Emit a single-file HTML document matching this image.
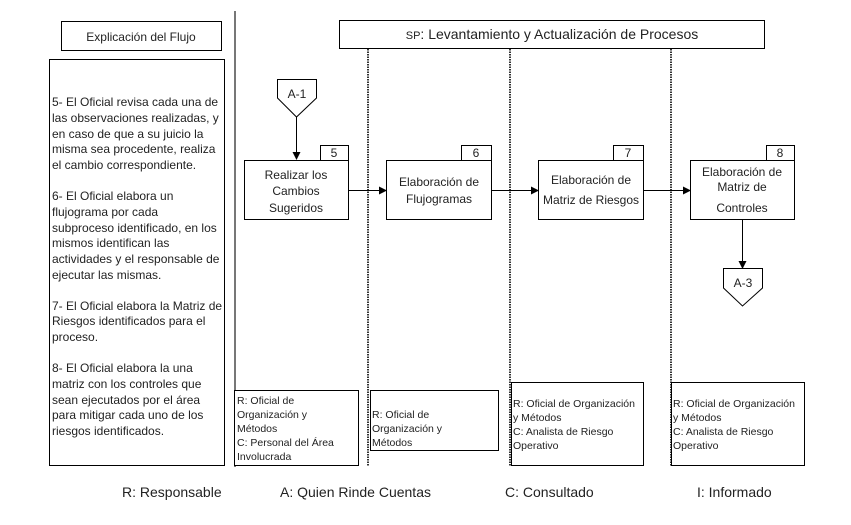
<!DOCTYPE html>
<html><head><meta charset="utf-8"><style>
body{margin:0;background:#fff}
svg{display:block}
text{font-family:"Liberation Sans",sans-serif;fill:#222}
</style></head><body>
<svg width="851" height="525" viewBox="0 0 851 525" xmlns="http://www.w3.org/2000/svg">
<defs><marker id="ar" markerWidth="8" markerHeight="8" refX="7" refY="4" orient="auto" markerUnits="userSpaceOnUse"><path d="M0,0 L8,4 L0,8 z" fill="#000"/></marker></defs>
<rect width="851" height="525" fill="#fff"/>
<!-- grey divider -->
<line x1="235" y1="11" x2="235" y2="467" stroke="#777" stroke-width="2"/>
<!-- dotted lane lines -->
<g stroke="#333" stroke-width="2" stroke-dasharray="1.5,1">
<line x1="368" y1="49" x2="368" y2="466"/>
<line x1="510" y1="49" x2="510" y2="466"/>
<line x1="671" y1="49" x2="671" y2="466"/>
</g>
<g fill="#fff" stroke="#000" stroke-width="1">
<rect x="61.5" y="21.5" width="160" height="29"/>
<rect x="49.5" y="59.5" width="175" height="406"/>
<rect x="339.5" y="20.5" width="425" height="28"/>
</g>
<text x="141" y="41" font-size="12" text-anchor="middle">Explicación del Flujo</text>
<text x="552" y="39" font-size="14" text-anchor="middle"><tspan font-size="11">SP</tspan>: Levantamiento y Actualización de Procesos</text>
<g font-size="12">
<text x="52" y="106">5- El Oficial revisa cada una de</text>
<text x="52" y="122">las observaciones realizadas, y</text>
<text x="52" y="138">en caso de que a su juicio la</text>
<text x="52" y="153">misma sea procedente, realiza</text>
<text x="52" y="169">el cambio correspondiente.</text>
<text x="52" y="200">6- El Oficial elabora un</text>
<text x="52" y="216">flujograma por cada</text>
<text x="52" y="232">subproceso identificado, en los</text>
<text x="52" y="247">mismos identifican las</text>
<text x="52" y="263">actividades y el responsable de</text>
<text x="52" y="279">ejecutar las mismas.</text>
<text x="52" y="310">7- El Oficial elabora la Matriz de</text>
<text x="52" y="325">Riesgos identificados para el</text>
<text x="52" y="341">proceso.</text>
<text x="52" y="372">8- El Oficial elabora la una</text>
<text x="52" y="388">matriz con los controles que</text>
<text x="52" y="404">sean ejecutados por el área</text>
<text x="52" y="419">para mitigar cada uno de los</text>
<text x="52" y="435">riesgos identificados.</text>
</g>
<!-- connectors -->
<g stroke="#000" stroke-width="1" fill="none">
<line x1="296.5" y1="117" x2="296.5" y2="159" marker-end="url(#ar)"/>
<line x1="348" y1="190.5" x2="386" y2="190.5" marker-end="url(#ar)"/>
<line x1="491" y1="190.5" x2="538" y2="190.5" marker-end="url(#ar)"/>
<line x1="643" y1="190.5" x2="690" y2="190.5" marker-end="url(#ar)"/>
<line x1="742.5" y1="220" x2="742.5" y2="268" marker-end="url(#ar)"/>
</g>
<g fill="#fff" stroke="#000" stroke-width="1">
<path d="M277.5,79.5 H316.5 V98 L296.5,117 L277.5,98 Z"/>
<path d="M723.5,268.5 H762.5 V288 L742.5,306 L723.5,288 Z"/>
<rect x="320.5" y="145.5" width="28" height="15"/>
<rect x="244.5" y="160.5" width="104" height="59"/>
<rect x="461.5" y="145.5" width="30" height="15"/>
<rect x="386.5" y="160.5" width="105" height="59"/>
<rect x="613.5" y="145.5" width="30" height="15"/>
<rect x="538.5" y="160.5" width="105" height="59"/>
<rect x="766.5" y="145.5" width="28" height="15"/>
<rect x="690.5" y="160.5" width="104" height="59"/>
<rect x="234.5" y="390.5" width="124" height="75"/>
<rect x="370.5" y="390.5" width="128" height="60"/>
<rect x="511.5" y="382.5" width="132" height="83"/>
<rect x="671.5" y="382.5" width="133" height="83"/>
</g>
<g font-size="12" text-anchor="middle">
<text x="297" y="98">A-1</text>
<text x="743" y="287">A-3</text>
<text x="334" y="157">5</text>
<text x="476" y="157">6</text>
<text x="628" y="157">7</text>
<text x="780" y="157">8</text>
<text x="296" y="179">Realizar los</text>
<text x="296" y="195">Cambios</text>
<text x="296" y="212">Sugeridos</text>
<text x="439" y="186">Elaboración de</text>
<text x="439" y="203">Flujogramas</text>
<text x="591" y="184">Elaboración de</text>
<text x="591" y="204">Matriz de Riesgos</text>
<text x="742" y="176">Elaboración de</text>
<text x="742" y="191">Matriz de</text>
<text x="742" y="212">Controles</text>
</g>
<g font-size="10.5">
<text x="237" y="404">R: Oficial de</text>
<text x="237" y="418">Organización y</text>
<text x="237" y="432">Métodos</text>
<text x="237" y="446">C: Personal del Área</text>
<text x="237" y="460">Involucrada</text>
<text x="372" y="418">R: Oficial de</text>
<text x="372" y="432">Organización y</text>
<text x="372" y="446">Métodos</text>
<text x="513" y="407">R: Oficial de Organización</text>
<text x="513" y="421">y Métodos</text>
<text x="513" y="435">C: Analista de Riesgo</text>
<text x="513" y="449">Operativo</text>
<text x="673" y="407">R: Oficial de Organización</text>
<text x="673" y="421">y Métodos</text>
<text x="673" y="435">C: Analista de Riesgo</text>
<text x="673" y="449">Operativo</text>
</g>
<g font-size="14">
<text x="122" y="497">R: Responsable</text>
<text x="280" y="497">A: Quien Rinde Cuentas</text>
<text x="505" y="497">C: Consultado</text>
<text x="697" y="497">I: Informado</text>
</g>
</svg>
</body></html>
